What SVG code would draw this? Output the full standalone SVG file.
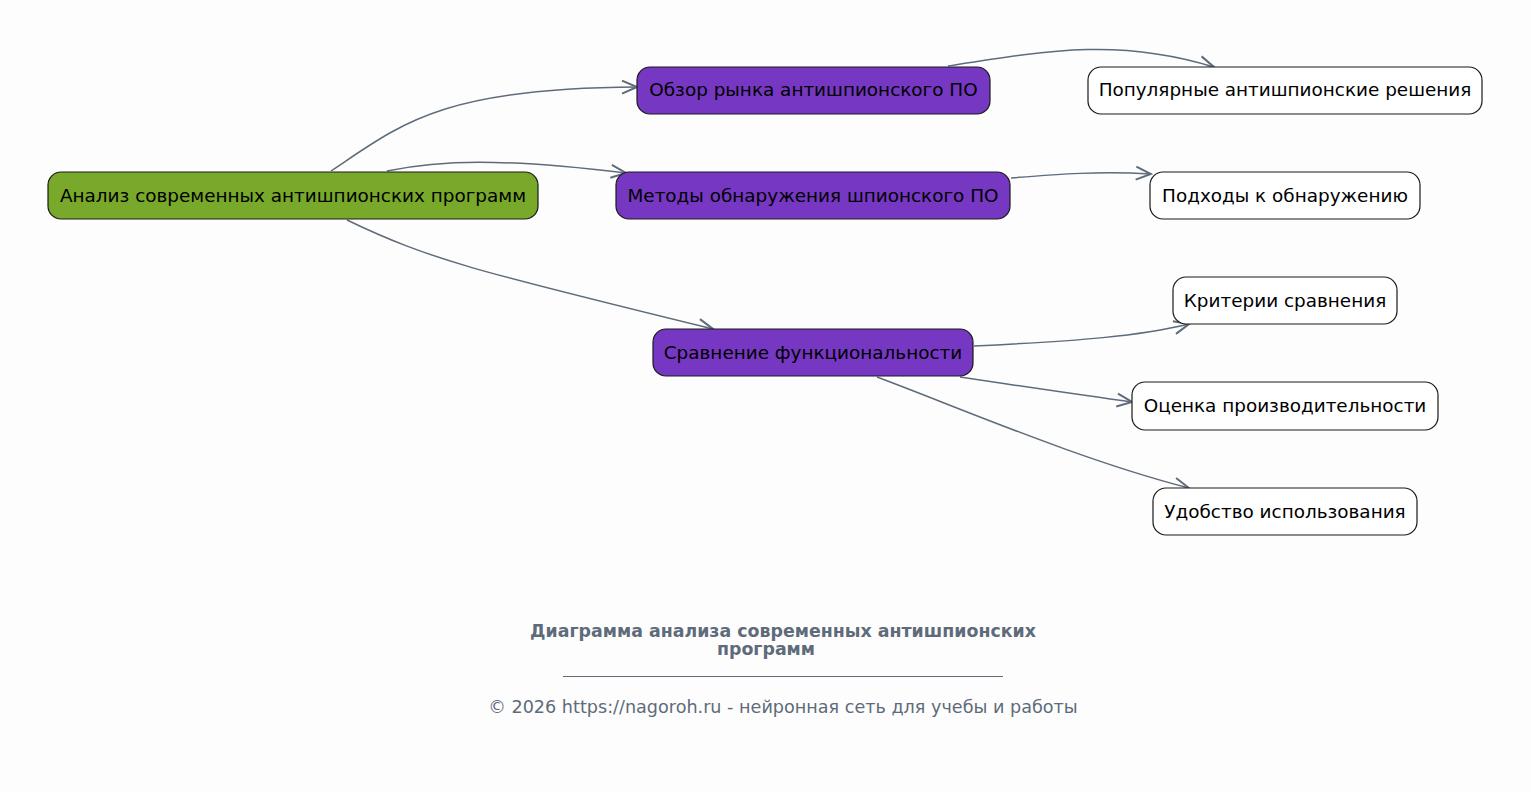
<svg xmlns="http://www.w3.org/2000/svg" width="1531" height="792" viewBox="0 0 1531 792">
<defs>
<style>
.n rect{stroke:#1a1a1a;stroke-width:1.2}
.n text{font-family:"DejaVu Sans",sans-serif;font-size:18.4px;fill:#000;text-anchor:middle}
.root rect{fill:#78a92a}
.mid rect{fill:#7637c3}
.leaf rect{fill:#ffffff}
.e path{fill:none;stroke:#5e6b7a;stroke-width:1.5}
.ft{font-family:"DejaVu Sans",sans-serif;fill:#5e6b7a;text-anchor:middle}
</style>
<marker id="a" viewBox="0 0 18 16" refX="16" refY="8" markerWidth="18" markerHeight="16" markerUnits="userSpaceOnUse" orient="auto">
<path d="M1,1.5 L16,8 L1,14.5" fill="none" stroke="#5e6b7a" stroke-width="2"/>
</marker>
</defs>
<rect width="1531" height="792" fill="#fdfdfd"/>
<g id="connectors" class="e">
<path d="M331,171 C400,125 440,88 637,87" marker-end="url(#a)"/>
<path d="M387,171 C440,160 500,158 626,173" marker-end="url(#a)"/>
<path d="M347,220 C430,260 480,272 713,329" marker-end="url(#a)"/>
<path d="M948,66 C1050,50 1120,38 1214,67" marker-end="url(#a)"/>
<path d="M1011,178 C1060,174 1100,171 1151,174" marker-end="url(#a)"/>
<path d="M974,346 C1080,341 1140,336 1189,324" marker-end="url(#a)"/>
<path d="M960,377 C1020,386 1080,395 1132,402" marker-end="url(#a)"/>
<path d="M877,377 C960,408 1080,460 1189,488" marker-end="url(#a)"/>
</g>
<g id="root" class="n root"><rect x="48" y="172" width="490" height="47" rx="13"/><text x="293" y="202">Анализ современных антишпионских программ</text></g>
<g id="obzor" class="n mid"><rect x="637" y="67" width="353" height="47" rx="13"/><text x="813.5" y="96">Обзор рынка антишпионского ПО</text></g>
<g id="metody" class="n mid"><rect x="616" y="172" width="394" height="47" rx="13"/><text x="813" y="202">Методы обнаружения шпионского ПО</text></g>
<g id="sravnenie" class="n mid"><rect x="653" y="329" width="320" height="47" rx="13"/><text x="813" y="359">Сравнение функциональности</text></g>
<g id="populyarnye" class="n leaf"><rect x="1088" y="67" width="394" height="47" rx="13"/><text x="1285" y="96">Популярные антишпионские решения</text></g>
<g id="podhody" class="n leaf"><rect x="1150" y="172" width="270" height="47" rx="13"/><text x="1285" y="202">Подходы к обнаружению</text></g>
<g id="kriterii" class="n leaf"><rect x="1173" y="277" width="224" height="47" rx="13"/><text x="1285" y="307">Критерии сравнения</text></g>
<g id="ocenka" class="n leaf"><rect x="1132" y="382" width="306" height="48" rx="13"/><text x="1285" y="412">Оценка производительности</text></g>
<g id="udobstvo" class="n leaf"><rect x="1153" y="488" width="264" height="47" rx="13"/><text x="1285" y="518">Удобство использования</text></g>
<g id="footer">
<text class="ft" x="783" y="637" font-size="17.4" font-weight="bold">Диаграмма анализа современных антишпионских</text>
<text class="ft" x="766" y="655" font-size="17.4" font-weight="bold">программ</text>
<line x1="563" y1="676.5" x2="1003" y2="676.5" stroke="#5e6b7a" stroke-width="1"/>
<text class="ft" x="783" y="713" font-size="17.6">© 2026 https://nagoroh.ru - нейронная сеть для учебы и работы</text>
</g>
</svg>
